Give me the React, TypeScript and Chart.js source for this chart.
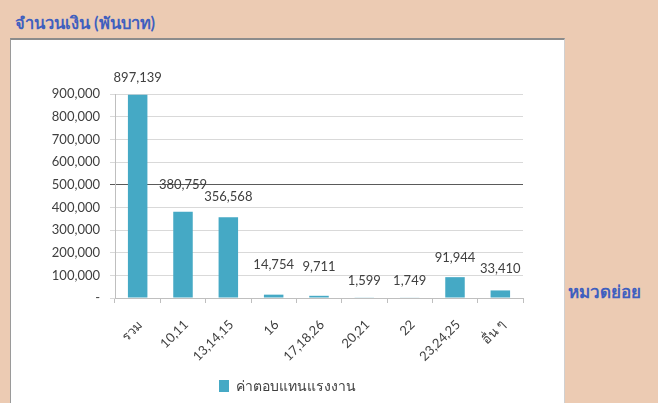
import React, { useEffect, useRef } from "react";
import { Chart, registerables } from "chart.js";

Chart.register(...registerables);

const categories = ["รวม", "10,11", "13,14,15", "16", "17,18,26", "20,21", "22", "23,24,25", "อื่น ๆ"];
const values = [897139, 380759, 356568, 14754, 9711, 1599, 1749, 91944, 33410];
const seriesName = "ค่าตอบแทนแรงงาน";
const yAxisTitle = "จำนวนเงิน (พันบาท)";
const xAxisTitle = "หมวดย่อย";
const yMax = 900000;
const yStep = 100000;
// vertical lift (px) of each value label above its bar top (style only)
const labelLift = [17, 27, 20, 30, 29, 17, 17, 19, 22];

const BAR = "#45a9c5";
const TEXT = "#404040";
const BLUE = "#3f5fbf";
const FONT = "Lato, 'Noto Sans', sans-serif";

const fmt = (v: number) => v.toLocaleString("en-US");

const valueLabels = {
  id: "valueLabels",
  afterDatasetsDraw(chart: any) {
    const ctx = chart.ctx;
    const meta = chart.getDatasetMeta(0);
    ctx.save();
    ctx.fillStyle = TEXT;
    ctx.font = `13px ${FONT}`;
    ctx.textAlign = "center";
    ctx.textBaseline = "middle";
    meta.data.forEach((el: any, i: number) => {
      ctx.fillText(fmt(values[i]), el.x, el.y - labelLift[i]);
    });
    ctx.restore();
  },
};

export default function App() {
  const ref = useRef<HTMLCanvasElement>(null);
  useEffect(() => {
    if (!ref.current) return;
    const chart = new Chart(ref.current, {
      type: "bar",
      data: {
        labels: categories,
        datasets: [
          {
            label: seriesName,
            data: values,
            backgroundColor: BAR,
            borderWidth: 0,
            categoryPercentage: 1,
            barPercentage: 0.43,
          },
        ],
      },
      options: {
        responsive: false,
        animation: false,
        layout: { padding: { top: 54, right: 0, left: 0, bottom: 0 } },
        plugins: {
          tooltip: { enabled: false },
          legend: {
            position: "bottom",
            labels: {
              boxWidth: 10,
              boxHeight: 12,
              padding: 10,
              color: TEXT,
              font: { size: 14, family: FONT },
            },
          },
        },
        scales: {
          x: {
            grid: {
              display: true,
              drawOnChartArea: false,
              offset: true,
              tickLength: 5,
              color: "#bfbfbf",
            },
            border: { color: "#bfbfbf" },
            ticks: {
              color: TEXT,
              font: { size: 13, family: FONT },
              maxRotation: 45,
              minRotation: 45,
              padding: 14,
              labelOffset: 3,
            },
            afterFit(scale: any) {
              scale.height = 71;
            },
          },
          y: {
            min: 0,
            max: yMax,
            ticks: {
              stepSize: yStep,
              color: TEXT,
              font: { size: 13, family: FONT },
              padding: 10,
              callback: (v: any) => (Number(v) === 0 ? "-" : fmt(Number(v))),
            },
            grid: {
              tickLength: 5,
              color: (c: any) => (c.tick && c.tick.value === 500000 ? "#5a5a5a" : "#d9d9d9"),
            },
            border: { color: "#bfbfbf" },
            afterFit(scale: any) {
              scale.width = 104;
            },
          },
          yRight: {
            position: "right",
            display: true,
            min: 0,
            max: yMax,
            ticks: { display: false },
            grid: { drawOnChartArea: false, drawTicks: false, display: false },
            border: { display: false },
            afterFit(scale: any) {
              scale.width = 41;
            },
          },
        },
      },
      plugins: [valueLabels],
    });
    return () => chart.destroy();
  }, []);

  return (
    <div
      style={{
        position: "absolute",
        left: 0,
        top: 0,
        width: 658,
        height: 403,
        overflow: "hidden",
        background: "#eccbb3",
        fontFamily: FONT,
      }}
    >
      <div
        style={{
          position: "absolute",
          left: 15,
          top: 10,
          color: BLUE,
          fontWeight: "bold",
          fontSize: 16.5,
        }}
      >
        {yAxisTitle}
      </div>
      <div
        style={{
          position: "absolute",
          left: 10,
          top: 38,
          width: 553,
          height: 370,
          background: "#ffffff",
          borderTop: "2px solid #8c8c8c",
          borderLeft: "1px solid #9a9a9a",
          borderRight: "1px solid #d0d0d0",
        }}
      >
        <canvas ref={ref} width={553} height={363} style={{ display: "block" }} />
      </div>
      <div
        style={{
          position: "absolute",
          left: 568,
          top: 278,
          color: BLUE,
          fontWeight: "bold",
          fontSize: 17,
        }}
      >
        {xAxisTitle}
      </div>
    </div>
  );
}
